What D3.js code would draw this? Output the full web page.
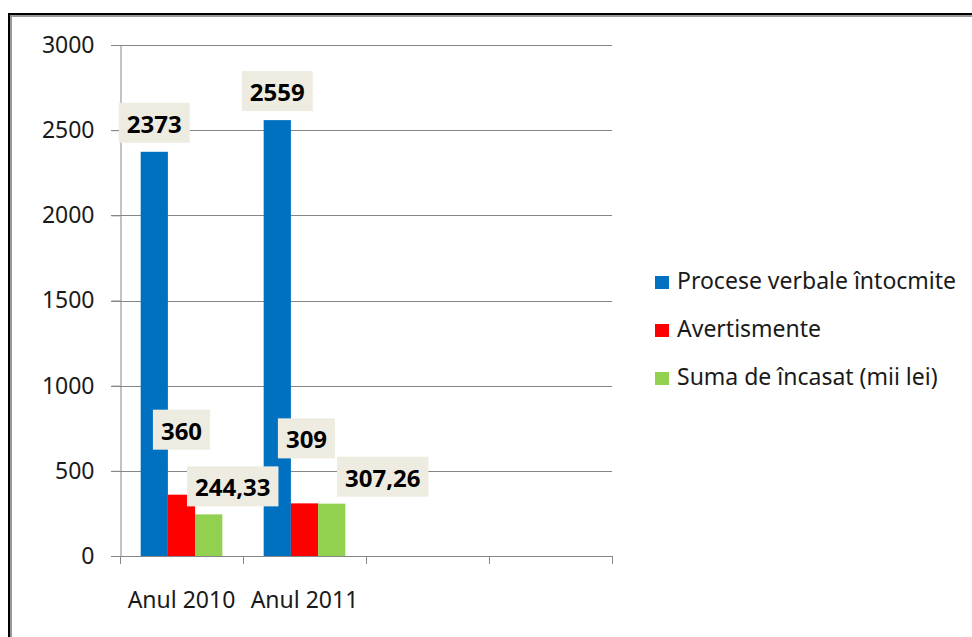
<!DOCTYPE html>
<html>
<head>
<meta charset="utf-8">
<script src="https://cdn.jsdelivr.net/npm/d3@7"></script>
<style>
  body { margin: 0; background: #fff; }
  svg { display: block; font-family: "Noto Sans", "Open Sans", sans-serif; }
</style>
</head>
<body>
<div id="chart"></div>
<script>
// date
const categories = ["Anul 2010", "Anul 2011"];
const seriesNames = ["Procese verbale întocmite", "Avertismente", "Suma de încasat (mii lei)"];
const procese = [2373, 2559];
const avertismente = [360, 309];
const suma = [244.33, 307.26];
const yTicks = [0, 500, 1000, 1500, 2000, 2500, 3000];

const colors = ["#0070C0", "#FF0000", "#92D050"];
const seriesValues = [procese, avertismente, suma];

// etichetele au fost mutate manual in original
const labelNudge = [
  [[0, 0], [0, 0]],
  [[0, -36], [2, -36]],
  [[24, 1], [51, 2]]
];

const W = 972, H = 637;
const plot = { left: 120, right: 612, top: 45, bottom: 556 };
const slots = 4;
const fontSize = 23;

const svg = d3.select("#chart").append("svg")
  .attr("width", W)
  .attr("height", H);

svg.append("rect").attr("width", W).attr("height", H).attr("fill", "#fff");

// rama
svg.append("path")
  .attr("d", `M11,${H} V16 H${W}`)
  .attr("fill", "none").attr("stroke", "#999").attr("stroke-width", 2);
svg.append("path")
  .attr("d", `M9,${H} V14 H${W}`)
  .attr("fill", "none").attr("stroke", "#000").attr("stroke-width", 2);

const x = d3.scaleBand()
  .domain(d3.range(slots))
  .range([plot.left, plot.right]);

const xInner = d3.scaleBand()
  .domain(d3.range(seriesNames.length))
  .range([0, x.bandwidth()])
  .paddingOuter(0.76);

const y = d3.scaleLinear()
  .domain([0, 3000])
  .range([plot.bottom, plot.top]);

const gridColor = "#868686";

// grila
svg.append("g")
  .selectAll("line")
  .data(yTicks)
  .join("line")
  .attr("x1", plot.left - 9)
  .attr("x2", plot.right)
  .attr("y1", d => Math.round(y(d)) + 0.5)
  .attr("y2", d => Math.round(y(d)) + 0.5)
  .attr("stroke", gridColor)
  .attr("stroke-width", 1);

// axa y
const yAxis = svg.append("g")
  .attr("transform", `translate(${plot.left + 0.5},0)`)
  .call(d3.axisLeft(y).tickValues(yTicks).tickSize(9).tickPadding(17).tickFormat(d3.format("d")));
yAxis.select(".domain").attr("stroke", gridColor);
yAxis.selectAll(".tick line").attr("stroke", gridColor);
yAxis.selectAll("text")
  .attr("font-size", fontSize)
  .attr("font-family", "'Noto Sans', sans-serif")
  .attr("fill", "#1a1a1a");

// axa x
const xAxis = svg.append("g")
  .attr("transform", `translate(0,${Math.round(y(0)) + 0.5})`)
  .call(d3.axisBottom(x).tickSize(0).tickPadding(35).tickFormat(i => categories[i] || ""));
xAxis.select(".domain").remove();
xAxis.selectAll("text")
  .attr("font-size", fontSize)
  .attr("font-family", "'Noto Sans', sans-serif")
  .attr("fill", "#1a1a1a");

svg.append("g")
  .selectAll("line")
  .data(d3.range(slots + 1))
  .join("line")
  .attr("x1", i => Math.round(i < slots ? x(i) : plot.right) + 0.5)
  .attr("x2", i => Math.round(i < slots ? x(i) : plot.right) + 0.5)
  .attr("y1", Math.round(y(0)))
  .attr("y2", Math.round(y(0)) + 8)
  .attr("stroke", gridColor);

// bare
const bars = [];
seriesValues.forEach((vals, s) => {
  vals.forEach((v, c) => bars.push({ s, c, v }));
});

svg.append("g")
  .selectAll("rect")
  .data(bars)
  .join("rect")
  .attr("x", d => x(d.c) + xInner(d.s))
  .attr("y", d => y(d.v))
  .attr("width", xInner.bandwidth())
  .attr("height", d => y(0) - y(d.v))
  .attr("fill", d => colors[d.s]);

// etichete
const fmt = v => String(v).replace(".", ",");
const labels = svg.append("g")
  .selectAll("g")
  .data(bars)
  .join("g")
  .attr("transform", d => {
    const [dx, dy] = labelNudge[d.s][d.c];
    const cx = x(d.c) + xInner(d.s) + xInner.bandwidth() / 2 + dx;
    const by = y(d.v) - 9 + dy;
    return `translate(${cx},${by})`;
  });

labels.append("rect").attr("fill", "#EEECE1");
labels.append("text")
  .attr("text-anchor", "middle")
  .attr("y", -10)
  .attr("font-size", 24)
  .attr("font-weight", "bold")
  .attr("fill", "#000")
  .text(d => fmt(d.v));

labels.each(function () {
  const g = d3.select(this);
  const w = g.select("text").node().getComputedTextLength() + 16;
  g.select("rect")
    .attr("x", -w / 2)
    .attr("y", -40)
    .attr("width", w)
    .attr("height", 40);
});

// legenda
const legend = svg.append("g")
  .attr("transform", "translate(655,289)");

const items = legend.selectAll("g")
  .data(seriesNames)
  .join("g")
  .attr("transform", (d, i) => `translate(0,${i * 48})`);

items.append("rect")
  .attr("x", 0)
  .attr("y", -13)
  .attr("width", 14)
  .attr("height", 13)
  .attr("fill", (d, i) => colors[i]);

items.append("text")
  .attr("x", 22)
  .attr("y", 0)
  .attr("font-size", fontSize)
  .attr("fill", "#1a1a1a")
  .text(d => d);
</script>
</body>
</html>
